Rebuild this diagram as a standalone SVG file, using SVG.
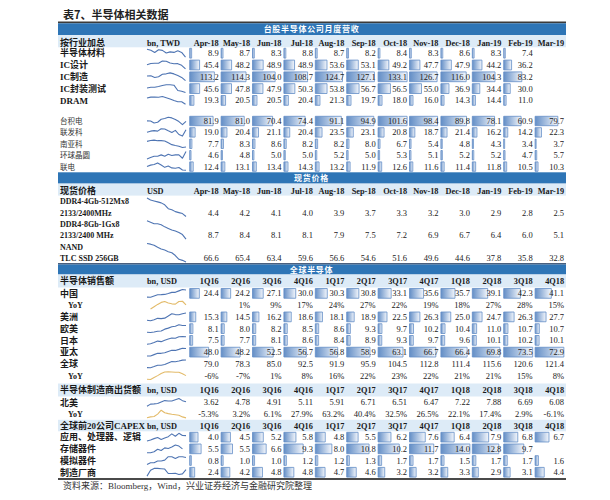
<svg xmlns="http://www.w3.org/2000/svg" width="610" height="500" viewBox="0 0 610 500">
<defs>
<linearGradient id="g" x1="0" y1="0" x2="1" y2="0"><stop offset="0" stop-color="#638ec6"/><stop offset="1" stop-color="#f4f7fc"/></linearGradient>
<style>
.lb{font-family:"Liberation Serif","Noto Sans CJK SC",serif;font-weight:bold;font-size:9px;fill:#1a1a1a}
.ls{font-family:"Liberation Serif","Noto Sans CJK SC",serif;font-size:7.5px;fill:#333}
.lt{font-family:"Liberation Serif",serif;font-weight:bold;font-size:8px;fill:#1a1a1a}
.u{font-family:"Liberation Serif",serif;font-weight:bold;font-size:8.3px;fill:#1a1a1a}
.h{font-family:"Liberation Serif",serif;font-weight:bold;font-size:8.3px;fill:#1a1a1a;text-anchor:end}
.n{font-family:"Liberation Serif",serif;font-size:8.5px;fill:#222;text-anchor:end}
.bt{font-family:"Noto Sans CJK SC",sans-serif;font-weight:bold;font-size:8px;letter-spacing:.7px;fill:#fff;text-anchor:middle}
.sp{fill:none;stroke:#4f75b3;stroke-width:1.1;vector-effect:non-scaling-stroke;stroke-linejoin:round}
.sy{fill:none;stroke:#e3bb6a;stroke-width:1.1;vector-effect:non-scaling-stroke;stroke-linejoin:round}
.b rect{fill:url(#g);stroke:#638ec6;stroke-width:.8;vector-effect:non-scaling-stroke}
.bg{fill:#ddebf7}
.bb{fill:#2e75b6}
</style>
</defs>
<rect width="610" height="500" fill="#fff"/>
<text x="63" y="19" style="font-family:'Noto Sans CJK SC',sans-serif;font-weight:bold;font-size:11px;fill:#222">表7、半导体相关数据</text>

<g id="backgrounds">
<rect x="58" y="21.5" width="508" height="1.8" fill="#3b3b3b"/>
<rect class="bb" x="58" y="23.3" width="508" height="11.7"/>
<rect class="bg" x="58" y="35" width="508" height="12.3"/>
<rect class="bb" x="58" y="172.3" width="508" height="11.3"/>
<rect class="bg" x="58" y="183.6" width="508" height="12"/>
<rect x="58" y="263.2" width="508" height="1.3" fill="#1e3a5f"/>
<rect class="bb" x="58" y="264.5" width="508" height="10"/>
<rect class="bg" x="58" y="274.5" width="508" height="13"/>
<rect class="bg" x="58" y="383.5" width="508" height="13"/>
<rect class="bg" x="58" y="419.8" width="508" height="11.5"/>
<rect x="58" y="478" width="508" height="2" fill="#4a4a4a"/>
</g>

<g id="section-titles">
<text class="bt" x="311.5" y="32.3">台股半导体公司月度营收</text>
<text class="bt" x="311.5" y="181">现货价格</text>
<text class="bt" x="311.5" y="272.6">全球半导体</text>
</g>

<g id="bars" class="b">
<g transform="translate(0,48.3)">
<rect transform="translate(189.7)scale(.21788,1)" width="8.9" height="9.8"/>
<rect transform="translate(221.1)scale(.21788,1)" width="8.7" height="9.8"/>
<rect transform="translate(252.5)scale(.21788,1)" width="8.3" height="9.8"/>
<rect transform="translate(283.9)scale(.21788,1)" width="8.8" height="9.8"/>
<rect transform="translate(315.3)scale(.21788,1)" width="8.7" height="9.8"/>
<rect transform="translate(346.7)scale(.21788,1)" width="8.2" height="9.8"/>
<rect transform="translate(378.1)scale(.21788,1)" width="8.4" height="9.8"/>
<rect transform="translate(409.5)scale(.21788,1)" width="8.3" height="9.8"/>
<rect transform="translate(440.9)scale(.21788,1)" width="8.6" height="9.8"/>
<rect transform="translate(472.3)scale(.21788,1)" width="8.3" height="9.8"/>
<rect transform="translate(503.7)scale(.21788,1)" width="7.4" height="9.8"/>
</g>
<g transform="translate(0,60.1)">
<rect transform="translate(189.7)scale(.21788,1)" width="45.4" height="9.8"/>
<rect transform="translate(221.1)scale(.21788,1)" width="48.2" height="9.8"/>
<rect transform="translate(252.5)scale(.21788,1)" width="48.9" height="9.8"/>
<rect transform="translate(283.9)scale(.21788,1)" width="48.9" height="9.8"/>
<rect transform="translate(315.3)scale(.21788,1)" width="53.6" height="9.8"/>
<rect transform="translate(346.7)scale(.21788,1)" width="53.1" height="9.8"/>
<rect transform="translate(378.1)scale(.21788,1)" width="49.2" height="9.8"/>
<rect transform="translate(409.5)scale(.21788,1)" width="47.7" height="9.8"/>
<rect transform="translate(440.9)scale(.21788,1)" width="47.9" height="9.8"/>
<rect transform="translate(472.3)scale(.21788,1)" width="44.2" height="9.8"/>
<rect transform="translate(503.7)scale(.21788,1)" width="36.2" height="9.8"/>
</g>
<g transform="translate(0,71.9)">
<rect transform="translate(189.7)scale(.21788,1)" width="113.2" height="9.8"/>
<rect transform="translate(221.1)scale(.21788,1)" width="114.3" height="9.8"/>
<rect transform="translate(252.5)scale(.21788,1)" width="104" height="9.8"/>
<rect transform="translate(283.9)scale(.21788,1)" width="108.7" height="9.8"/>
<rect transform="translate(315.3)scale(.21788,1)" width="124.7" height="9.8"/>
<rect transform="translate(346.7)scale(.21788,1)" width="127.1" height="9.8"/>
<rect transform="translate(378.1)scale(.21788,1)" width="133.1" height="9.8"/>
<rect transform="translate(409.5)scale(.21788,1)" width="126.7" height="9.8"/>
<rect transform="translate(440.9)scale(.21788,1)" width="116" height="9.8"/>
<rect transform="translate(472.3)scale(.21788,1)" width="104.3" height="9.8"/>
<rect transform="translate(503.7)scale(.21788,1)" width="83.2" height="9.8"/>
</g>
<g transform="translate(0,83.7)">
<rect transform="translate(189.7)scale(.21788,1)" width="45.6" height="9.8"/>
<rect transform="translate(221.1)scale(.21788,1)" width="47.8" height="9.8"/>
<rect transform="translate(252.5)scale(.21788,1)" width="47.9" height="9.8"/>
<rect transform="translate(283.9)scale(.21788,1)" width="50.3" height="9.8"/>
<rect transform="translate(315.3)scale(.21788,1)" width="53.8" height="9.8"/>
<rect transform="translate(346.7)scale(.21788,1)" width="56.7" height="9.8"/>
<rect transform="translate(378.1)scale(.21788,1)" width="56.5" height="9.8"/>
<rect transform="translate(409.5)scale(.21788,1)" width="55" height="9.8"/>
<rect transform="translate(440.9)scale(.21788,1)" width="36.9" height="9.8"/>
<rect transform="translate(472.3)scale(.21788,1)" width="34.4" height="9.8"/>
<rect transform="translate(503.7)scale(.21788,1)" width="30" height="9.8"/>
</g>
<g transform="translate(0,95.5)">
<rect transform="translate(189.7)scale(.21788,1)" width="19.3" height="9.8"/>
<rect transform="translate(221.1)scale(.21788,1)" width="20.5" height="9.8"/>
<rect transform="translate(252.5)scale(.21788,1)" width="20.5" height="9.8"/>
<rect transform="translate(283.9)scale(.21788,1)" width="20.4" height="9.8"/>
<rect transform="translate(315.3)scale(.21788,1)" width="21.3" height="9.8"/>
<rect transform="translate(346.7)scale(.21788,1)" width="19.7" height="9.8"/>
<rect transform="translate(378.1)scale(.21788,1)" width="18" height="9.8"/>
<rect transform="translate(409.5)scale(.21788,1)" width="16" height="9.8"/>
<rect transform="translate(440.9)scale(.21788,1)" width="14.3" height="9.8"/>
<rect transform="translate(472.3)scale(.21788,1)" width="14.4" height="9.8"/>
<rect transform="translate(503.7)scale(.21788,1)" width="11" height="9.8"/>
</g>

<g transform="translate(0,116.3)">
<rect transform="translate(189.7)scale(.28543,1)" width="81.9" height="9.4"/>
<rect transform="translate(221.1)scale(.28543,1)" width="81" height="9.4"/>
<rect transform="translate(252.5)scale(.28543,1)" width="70.4" height="9.4"/>
<rect transform="translate(283.9)scale(.28543,1)" width="74.4" height="9.4"/>
<rect transform="translate(315.3)scale(.28543,1)" width="91.1" height="9.4"/>
<rect transform="translate(346.7)scale(.28543,1)" width="94.9" height="9.4"/>
<rect transform="translate(378.1)scale(.28543,1)" width="101.6" height="9.4"/>
<rect transform="translate(409.5)scale(.28543,1)" width="98.4" height="9.4"/>
<rect transform="translate(440.9)scale(.28543,1)" width="89.8" height="9.4"/>
<rect transform="translate(472.3)scale(.28543,1)" width="78.1" height="9.4"/>
<rect transform="translate(503.7)scale(.28543,1)" width="60.9" height="9.4"/>
<rect transform="translate(535.1)scale(.28543,1)" width="79.7" height="9.4"/>
</g>
<g transform="translate(0,127.7)">
<rect transform="translate(189.7)scale(.28543,1)" width="19" height="9.4"/>
<rect transform="translate(221.1)scale(.28543,1)" width="20.4" height="9.4"/>
<rect transform="translate(252.5)scale(.28543,1)" width="21.1" height="9.4"/>
<rect transform="translate(283.9)scale(.28543,1)" width="20.4" height="9.4"/>
<rect transform="translate(315.3)scale(.28543,1)" width="23.5" height="9.4"/>
<rect transform="translate(346.7)scale(.28543,1)" width="23.1" height="9.4"/>
<rect transform="translate(378.1)scale(.28543,1)" width="20.8" height="9.4"/>
<rect transform="translate(409.5)scale(.28543,1)" width="18.7" height="9.4"/>
<rect transform="translate(440.9)scale(.28543,1)" width="21.4" height="9.4"/>
<rect transform="translate(472.3)scale(.28543,1)" width="16.2" height="9.4"/>
<rect transform="translate(503.7)scale(.28543,1)" width="14.2" height="9.4"/>
<rect transform="translate(535.1)scale(.28543,1)" width="22.3" height="9.4"/>
</g>
<g transform="translate(0,139.1)">
<rect transform="translate(189.7)scale(.28543,1)" width="7.7" height="9.4"/>
<rect transform="translate(221.1)scale(.28543,1)" width="8.3" height="9.4"/>
<rect transform="translate(252.5)scale(.28543,1)" width="8.6" height="9.4"/>
<rect transform="translate(283.9)scale(.28543,1)" width="8.2" height="9.4"/>
<rect transform="translate(315.3)scale(.28543,1)" width="8.2" height="9.4"/>
<rect transform="translate(346.7)scale(.28543,1)" width="8" height="9.4"/>
<rect transform="translate(378.1)scale(.28543,1)" width="6.7" height="9.4"/>
<rect transform="translate(409.5)scale(.28543,1)" width="5.4" height="9.4"/>
<rect transform="translate(440.9)scale(.28543,1)" width="4.8" height="9.4"/>
<rect transform="translate(472.3)scale(.28543,1)" width="4.3" height="9.4"/>
<rect transform="translate(503.7)scale(.28543,1)" width="3.4" height="9.4"/>
<rect transform="translate(535.1)scale(.28543,1)" width="3.7" height="9.4"/>
</g>
<g transform="translate(0,150.5)">
<rect transform="translate(189.7)scale(.28543,1)" width="4.6" height="9.4"/>
<rect transform="translate(221.1)scale(.28543,1)" width="4.8" height="9.4"/>
<rect transform="translate(252.5)scale(.28543,1)" width="5" height="9.4"/>
<rect transform="translate(283.9)scale(.28543,1)" width="5" height="9.4"/>
<rect transform="translate(315.3)scale(.28543,1)" width="5.2" height="9.4"/>
<rect transform="translate(346.7)scale(.28543,1)" width="5" height="9.4"/>
<rect transform="translate(378.1)scale(.28543,1)" width="5.3" height="9.4"/>
<rect transform="translate(409.5)scale(.28543,1)" width="5.1" height="9.4"/>
<rect transform="translate(440.9)scale(.28543,1)" width="5.2" height="9.4"/>
<rect transform="translate(472.3)scale(.28543,1)" width="5.2" height="9.4"/>
<rect transform="translate(503.7)scale(.28543,1)" width="4.7" height="9.4"/>
<rect transform="translate(535.1)scale(.28543,1)" width="5.7" height="9.4"/>
</g>
<g transform="translate(0,161.9)">
<rect transform="translate(189.7)scale(.28543,1)" width="12.4" height="9.4"/>
<rect transform="translate(221.1)scale(.28543,1)" width="13.1" height="9.4"/>
<rect transform="translate(252.5)scale(.28543,1)" width="13.4" height="9.4"/>
<rect transform="translate(283.9)scale(.28543,1)" width="14.3" height="9.4"/>
<rect transform="translate(315.3)scale(.28543,1)" width="13.2" height="9.4"/>
<rect transform="translate(346.7)scale(.28543,1)" width="11.9" height="9.4"/>
<rect transform="translate(378.1)scale(.28543,1)" width="12.6" height="9.4"/>
<rect transform="translate(409.5)scale(.28543,1)" width="11.6" height="9.4"/>
<rect transform="translate(440.9)scale(.28543,1)" width="11.4" height="9.4"/>
<rect transform="translate(472.3)scale(.28543,1)" width="11.8" height="9.4"/>
<rect transform="translate(503.7)scale(.28543,1)" width="10.5" height="9.4"/>
<rect transform="translate(535.1)scale(.28543,1)" width="10.3" height="9.4"/>
</g>

<g transform="translate(0,288.5)">
<rect transform="translate(189.7)scale(.39456,1)" width="24.4" height="9.75"/>
<rect transform="translate(221.1)scale(.39456,1)" width="24.2" height="9.75"/>
<rect transform="translate(252.5)scale(.39456,1)" width="27.1" height="9.75"/>
<rect transform="translate(283.9)scale(.39456,1)" width="30" height="9.75"/>
<rect transform="translate(315.3)scale(.39456,1)" width="30.3" height="9.75"/>
<rect transform="translate(346.7)scale(.39456,1)" width="30.8" height="9.75"/>
<rect transform="translate(378.1)scale(.39456,1)" width="33.1" height="9.75"/>
<rect transform="translate(409.5)scale(.39456,1)" width="35.6" height="9.75"/>
<rect transform="translate(440.9)scale(.39456,1)" width="35.7" height="9.75"/>
<rect transform="translate(472.3)scale(.39456,1)" width="39.1" height="9.75"/>
<rect transform="translate(503.7)scale(.39456,1)" width="42.3" height="9.75"/>
<rect transform="translate(535.1)scale(.39456,1)" width="41.1" height="9.75"/>
</g>
<g transform="translate(0,312)">
<rect transform="translate(189.7)scale(.39456,1)" width="15.3" height="9.75"/>
<rect transform="translate(221.1)scale(.39456,1)" width="14.5" height="9.75"/>
<rect transform="translate(252.5)scale(.39456,1)" width="16.2" height="9.75"/>
<rect transform="translate(283.9)scale(.39456,1)" width="18.6" height="9.75"/>
<rect transform="translate(315.3)scale(.39456,1)" width="18.1" height="9.75"/>
<rect transform="translate(346.7)scale(.39456,1)" width="18.9" height="9.75"/>
<rect transform="translate(378.1)scale(.39456,1)" width="22.5" height="9.75"/>
<rect transform="translate(409.5)scale(.39456,1)" width="26.3" height="9.75"/>
<rect transform="translate(440.9)scale(.39456,1)" width="25" height="9.75"/>
<rect transform="translate(472.3)scale(.39456,1)" width="24.7" height="9.75"/>
<rect transform="translate(503.7)scale(.39456,1)" width="26.3" height="9.75"/>
<rect transform="translate(535.1)scale(.39456,1)" width="27.7" height="9.75"/>
</g>
<g transform="translate(0,323.75)">
<rect transform="translate(189.7)scale(.39456,1)" width="8.1" height="9.75"/>
<rect transform="translate(221.1)scale(.39456,1)" width="8" height="9.75"/>
<rect transform="translate(252.5)scale(.39456,1)" width="8.2" height="9.75"/>
<rect transform="translate(283.9)scale(.39456,1)" width="8.5" height="9.75"/>
<rect transform="translate(315.3)scale(.39456,1)" width="8.6" height="9.75"/>
<rect transform="translate(346.7)scale(.39456,1)" width="9.3" height="9.75"/>
<rect transform="translate(378.1)scale(.39456,1)" width="9.7" height="9.75"/>
<rect transform="translate(409.5)scale(.39456,1)" width="10.2" height="9.75"/>
<rect transform="translate(440.9)scale(.39456,1)" width="10.4" height="9.75"/>
<rect transform="translate(472.3)scale(.39456,1)" width="11" height="9.75"/>
<rect transform="translate(503.7)scale(.39456,1)" width="10.7" height="9.75"/>
<rect transform="translate(535.1)scale(.39456,1)" width="10.7" height="9.75"/>
</g>
<g transform="translate(0,335.5)">
<rect transform="translate(189.7)scale(.39456,1)" width="7.5" height="9.75"/>
<rect transform="translate(221.1)scale(.39456,1)" width="7.7" height="9.75"/>
<rect transform="translate(252.5)scale(.39456,1)" width="8.1" height="9.75"/>
<rect transform="translate(283.9)scale(.39456,1)" width="8.6" height="9.75"/>
<rect transform="translate(315.3)scale(.39456,1)" width="8.4" height="9.75"/>
<rect transform="translate(346.7)scale(.39456,1)" width="8.9" height="9.75"/>
<rect transform="translate(378.1)scale(.39456,1)" width="9.3" height="9.75"/>
<rect transform="translate(409.5)scale(.39456,1)" width="9.7" height="9.75"/>
<rect transform="translate(440.9)scale(.39456,1)" width="9.6" height="9.75"/>
<rect transform="translate(472.3)scale(.39456,1)" width="10.1" height="9.75"/>
<rect transform="translate(503.7)scale(.39456,1)" width="10.2" height="9.75"/>
<rect transform="translate(535.1)scale(.39456,1)" width="10.1" height="9.75"/>
</g>
<g transform="translate(0,347.25)">
<rect transform="translate(189.7)scale(.39456,1)" width="48" height="9.75"/>
<rect transform="translate(221.1)scale(.39456,1)" width="48.2" height="9.75"/>
<rect transform="translate(252.5)scale(.39456,1)" width="52.5" height="9.75"/>
<rect transform="translate(283.9)scale(.39456,1)" width="56.7" height="9.75"/>
<rect transform="translate(315.3)scale(.39456,1)" width="56.8" height="9.75"/>
<rect transform="translate(346.7)scale(.39456,1)" width="58.9" height="9.75"/>
<rect transform="translate(378.1)scale(.39456,1)" width="63.1" height="9.75"/>
<rect transform="translate(409.5)scale(.39456,1)" width="66.7" height="9.75"/>
<rect transform="translate(440.9)scale(.39456,1)" width="66.4" height="9.75"/>
<rect transform="translate(472.3)scale(.39456,1)" width="69.8" height="9.75"/>
<rect transform="translate(503.7)scale(.39456,1)" width="73.5" height="9.75"/>
<rect transform="translate(535.1)scale(.39456,1)" width="72.9" height="9.75"/>
</g>

<g transform="translate(0,432.3)">
<rect transform="translate(189.7)scale(2.07143,1)" width="4" height="9.7"/>
<rect transform="translate(221.1)scale(2.07143,1)" width="4.5" height="9.7"/>
<rect transform="translate(252.5)scale(2.07143,1)" width="5.2" height="9.7"/>
<rect transform="translate(283.9)scale(2.07143,1)" width="5.8" height="9.7"/>
<rect transform="translate(315.3)scale(2.07143,1)" width="4.8" height="9.7"/>
<rect transform="translate(346.7)scale(2.07143,1)" width="5.5" height="9.7"/>
<rect transform="translate(378.1)scale(2.07143,1)" width="6.2" height="9.7"/>
<rect transform="translate(409.5)scale(2.07143,1)" width="7.6" height="9.7"/>
<rect transform="translate(440.9)scale(2.07143,1)" width="6.4" height="9.7"/>
<rect transform="translate(472.3)scale(2.07143,1)" width="7.9" height="9.7"/>
<rect transform="translate(503.7)scale(2.07143,1)" width="6.8" height="9.7"/>
<rect transform="translate(535.1)scale(2.07143,1)" width="6.7" height="9.7"/>
</g>
<g transform="translate(0,444)">
<rect transform="translate(189.7)scale(2.07143,1)" width="5.5" height="9.7"/>
<rect transform="translate(221.1)scale(2.07143,1)" width="5.5" height="9.7"/>
<rect transform="translate(252.5)scale(2.07143,1)" width="6.6" height="9.7"/>
<rect transform="translate(283.9)scale(2.07143,1)" width="9.3" height="9.7"/>
<rect transform="translate(315.3)scale(2.07143,1)" width="8" height="9.7"/>
<rect transform="translate(346.7)scale(2.07143,1)" width="10.8" height="9.7"/>
<rect transform="translate(378.1)scale(2.07143,1)" width="10.2" height="9.7"/>
<rect transform="translate(409.5)scale(2.07143,1)" width="11.7" height="9.7"/>
<rect transform="translate(440.9)scale(2.07143,1)" width="14" height="9.7"/>
<rect transform="translate(472.3)scale(2.07143,1)" width="12.8" height="9.7"/>
<rect transform="translate(503.7)scale(2.07143,1)" width="9.7" height="9.7"/>
</g>
<g transform="translate(0,455.7)">
<rect transform="translate(189.7)scale(2.07143,1)" width="0.8" height="9.7"/>
<rect transform="translate(221.1)scale(2.07143,1)" width="1" height="9.7"/>
<rect transform="translate(252.5)scale(2.07143,1)" width="1" height="9.7"/>
<rect transform="translate(283.9)scale(2.07143,1)" width="1.2" height="9.7"/>
<rect transform="translate(315.3)scale(2.07143,1)" width="1.2" height="9.7"/>
<rect transform="translate(346.7)scale(2.07143,1)" width="1.3" height="9.7"/>
<rect transform="translate(378.1)scale(2.07143,1)" width="1.7" height="9.7"/>
<rect transform="translate(409.5)scale(2.07143,1)" width="1.7" height="9.7"/>
<rect transform="translate(440.9)scale(2.07143,1)" width="1.5" height="9.7"/>
<rect transform="translate(472.3)scale(2.07143,1)" width="1.7" height="9.7"/>
<rect transform="translate(503.7)scale(2.07143,1)" width="1.7" height="9.7"/>
<rect transform="translate(535.1)scale(2.07143,1)" width="1.6" height="9.7"/>
</g>
<g transform="translate(0,467.4)">
<rect transform="translate(189.7)scale(2.07143,1)" width="2.4" height="9.7"/>
<rect transform="translate(221.1)scale(2.07143,1)" width="4.2" height="9.7"/>
<rect transform="translate(252.5)scale(2.07143,1)" width="4.8" height="9.7"/>
<rect transform="translate(283.9)scale(2.07143,1)" width="4.8" height="9.7"/>
<rect transform="translate(315.3)scale(2.07143,1)" width="4.7" height="9.7"/>
<rect transform="translate(346.7)scale(2.07143,1)" width="4.6" height="9.7"/>
<rect transform="translate(378.1)scale(2.07143,1)" width="3.2" height="9.7"/>
<rect transform="translate(409.5)scale(2.07143,1)" width="3.2" height="9.7"/>
<rect transform="translate(440.9)scale(2.07143,1)" width="3.3" height="9.7"/>
<rect transform="translate(472.3)scale(2.07143,1)" width="2.9" height="9.7"/>
<rect transform="translate(503.7)scale(2.07143,1)" width="3.1" height="9.7"/>
<rect transform="translate(535.1)scale(2.07143,1)" width="4.4" height="9.7"/>
</g>
</g>

<g id="sparklines">
<polyline class="sp" transform="translate(147,57.1) scale(3.85,-5.2) translate(0,-7.4)" points="0,8.9 1,8.7 2,8.3 3,8.8 4,8.7 5,8.2 6,8.4 7,8.3 8,8.6 9,8.3 10,7.4"/>
<polyline class="sp" transform="translate(147,68.9) scale(3.85,-0.4483) translate(0,-36.2)" points="0,45.4 1,48.2 2,48.9 3,48.9 4,53.6 5,53.1 6,49.2 7,47.7 8,47.9 9,44.2 10,36.2"/>
<polyline class="sp" transform="translate(147,80.7) scale(3.85,-0.1563) translate(0,-83.2)" points="0,113.2 1,114.3 2,104 3,108.7 4,124.7 5,127.1 6,133.1 7,126.7 8,116 9,104.3 10,83.2"/>
<polyline class="sp" transform="translate(147,92.5) scale(3.85,-0.2921) translate(0,-30)" points="0,45.6 1,47.8 2,47.9 3,50.3 4,53.8 5,56.7 6,56.5 7,55 8,36.9 9,34.4 10,30"/>
<polyline class="sp" transform="translate(147,104.3) scale(3.85,-0.7573) translate(0,-11)" points="0,19.3 1,20.5 2,20.5 3,20.4 4,21.3 5,19.7 6,18 7,16 8,14.3 9,14.4 10,11"/>

<polyline class="sp" transform="translate(147,124.7) scale(3.545,-0.1818) translate(0,-60.9)" points="0,81.9 1,81 2,70.4 3,74.4 4,91.1 5,94.9 6,101.6 7,98.4 8,89.8 9,78.1 10,60.9 11,79.7"/>
<polyline class="sp" transform="translate(147,136.1) scale(3.545,-0.7957) translate(0,-14.2)" points="0,19 1,20.4 2,21.1 3,20.4 4,23.5 5,23.1 6,20.8 7,18.7 8,21.4 9,16.2 10,14.2 11,22.3"/>
<polyline class="sp" transform="translate(147,147.5) scale(3.545,-1.4231) translate(0,-3.4)" points="0,7.7 1,8.3 2,8.6 3,8.2 4,8.2 5,8 6,6.7 7,5.4 8,4.8 9,4.3 10,3.4 11,3.7"/>
<polyline class="sp" transform="translate(147,158.9) scale(3.545,-6.727) translate(0,-4.6)" points="0,4.6 1,4.8 2,5 3,5 4,5.2 5,5 6,5.3 7,5.1 8,5.2 9,5.2 10,4.7 11,5.7"/>
<polyline class="sp" transform="translate(147,170.3) scale(3.545,-1.85) translate(0,-10.3)" points="0,12.4 1,13.1 2,13.4 3,14.3 4,13.2 5,11.9 6,12.6 7,11.6 8,11.4 9,11.8 10,10.5 11,10.3"/>

<polyline class="sp" transform="translate(147,216.5) scale(3.545,-9.737) translate(0,-2.5)" points="0,4.4 1,4.2 2,4.1 3,4 4,3.9 5,3.7 6,3.3 7,3.2 8,3 9,2.9 10,2.8 11,2.5"/>
<polyline class="sp" transform="translate(147,239.2) scale(3.545,-5.139) translate(0,-5.1)" points="0,8.7 1,8.4 2,8.1 3,8.1 4,7.9 5,7.5 6,7.2 7,6.9 8,6.7 9,6.4 10,6 11,5.1"/>
<polyline class="sp" transform="translate(147,262) scale(3.545,-0.5473) translate(0,-32.8)" points="0,66.6 1,65.4 2,63.4 3,59.6 4,56.6 5,54.6 6,51.6 7,49.6 8,44.6 9,37.8 10,35.8 11,32.8"/>

<polyline class="sp" transform="translate(147,297.25) scale(3.545,-0.4282) translate(0,-24.2)" points="0,24.4 1,24.2 2,27.1 3,30 4,30.3 5,30.8 6,33.1 7,35.6 8,35.7 9,39.1 10,42.3 11,41.1"/>
<polyline class="sy" transform="translate(147,309) scale(3.545,-0.287) translate(0,-1)" points="1,1 2,9 3,17 4,24 5,27 6,22 7,19 8,18 9,27 10,28 11,15"/>
<polyline class="sp" transform="translate(147,320.75) scale(3.545,-0.5871) translate(0,-14.5)" points="0,15.3 1,14.5 2,16.2 3,18.6 4,18.1 5,18.9 6,22.5 7,26.3 8,25 9,24.7 10,26.3 11,27.7"/>
<polyline class="sp" transform="translate(147,332.5) scale(3.545,-2.5833) translate(0,-8)" points="0,8.1 1,8 2,8.2 3,8.5 4,8.6 5,9.3 6,9.7 7,10.2 8,10.4 9,11 10,10.7 11,10.7"/>
<polyline class="sp" transform="translate(147,344.25) scale(3.545,-2.8704) translate(0,-7.5)" points="0,7.5 1,7.7 2,8.1 3,8.6 4,8.4 5,8.9 6,9.3 7,9.7 8,9.6 9,10.1 10,10.2 11,10.1"/>
<polyline class="sp" transform="translate(147,356) scale(3.545,-0.3039) translate(0,-48)" points="0,48 1,48.2 2,52.5 3,56.7 4,56.8 5,58.9 6,63.1 7,66.7 8,66.4 9,69.8 10,73.5 11,72.9"/>
<polyline class="sp" transform="translate(147,367.75) scale(3.545,-0.1798) translate(0,-78.3)" points="0,79 1,78.3 2,85 3,92.5 4,91.9 5,95.9 6,104.5 7,112.8 8,111.4 9,115.6 10,120.6 11,121.4"/>
<polyline class="sy" transform="translate(147,379.5) scale(3.545,-0.2583) translate(0,7)" points="0,-6 1,-7 2,1 3,8 4,16 5,22 6,23 7,22 8,21 9,21 10,15 11,8"/>

<polyline class="sp" transform="translate(147,406.2) scale(3.545,-1.8075) translate(0,-3.62)" points="0,3.62 1,4.78 2,4.91 3,5.11 4,5.91 5,6.71 6,6.51 7,6.47 8,7.22 9,7.88 10,6.69 11,6.08"/>
<polyline class="sy" transform="translate(147,417.9) scale(3.545,-0.1111) translate(0,6.1)" points="0,-5.3 1,3.2 2,6.1 3,27.9 4,63.2 5,40.4 6,32.5 7,26.5 8,22.1 9,17.4 10,2.9 11,-6.1"/>

<polyline class="sp" transform="translate(147,441) scale(3.545,-1.9744) translate(0,-4)" points="0,4 1,4.5 2,5.2 3,5.8 4,4.8 5,5.5 6,6.2 7,7.6 8,6.4 9,7.9 10,6.8 11,6.7"/>
<polyline class="sp" transform="translate(147,452.7) scale(3.545,-0.9059) translate(0,-5.5)" points="0,5.5 1,5.5 2,6.6 3,9.3 4,8 5,10.8 6,10.2 7,11.7 8,14 9,12.8 10,9.7"/>
<polyline class="sp" transform="translate(147,464.4) scale(3.545,-8.556) translate(0,-0.8)" points="0,0.8 1,1 2,1 3,1.2 4,1.2 5,1.3 6,1.7 7,1.7 8,1.5 9,1.7 10,1.7 11,1.6"/>
<polyline class="sp" transform="translate(147,476.1) scale(3.545,-3.2083) translate(0,-2.4)" points="0,2.4 1,4.2 2,4.8 3,4.8 4,4.7 5,4.6 6,3.2 7,3.2 8,3.3 9,2.9 10,3.1 11,4.4"/>
</g>

<g id="labels">
<text class="lb" x="60" y="45.8">按行业加总</text>
<text class="lb" x="60" y="56.4">半导体材料</text>
<text class="lb" x="60" y="68.2">IC设计</text>
<text class="lb" x="60" y="80">IC制造</text>
<text class="lb" x="60" y="91.8">IC封装测试</text>
<text class="lb" x="60" y="103.6">DRAM</text>
<text class="ls" x="60" y="123.9">台积电</text>
<text class="ls" x="60" y="135.3">联发科</text>
<text class="ls" x="60" y="146.7">南亚科</text>
<text class="ls" x="60" y="158.1">环球晶圆</text>
<text class="ls" x="60" y="169.5">联电</text>
<text class="lb" x="60" y="193.7">现货价格</text>
<text class="lt" x="60" y="204.3">DDR4-4Gb-512Mx8</text>
<text class="lt" x="60" y="215.6">2133/2400MHz</text>
<text class="lt" x="60" y="227">DDR4-8Gb-1Gx8</text>
<text class="lt" x="60" y="238.3">2133/2400 MHz</text>
<text class="lt" x="60" y="249.7">NAND</text>
<text class="lt" x="60" y="261">TLC SSD 256GB</text>
<text class="lb" x="60" y="284.3">半导体销售额</text>
<text class="lb" x="60" y="296.6">中国</text>
<text class="lt" x="68" y="308.2">YoY</text>
<text class="lb" x="60" y="320.1">美洲</text>
<text class="lb" x="60" y="331.8">欧美</text>
<text class="lb" x="60" y="343.6">日本</text>
<text class="lb" x="60" y="355.3">亚太</text>
<text class="lb" x="60" y="367.1">全球</text>
<text class="lt" x="68" y="378.7">YoY</text>
<text class="lb" x="60" y="393.2">半导体制造商出货额</text>
<text class="lb" x="60" y="405.5">北美</text>
<text class="lt" x="68" y="417.1">YoY</text>
<text class="lb" x="60" y="428.8">全球前20公司CAPEX</text>
<text class="lb" x="60" y="440.4">应用、处理器、逻辑</text>
<text class="lb" x="60" y="452.1">存储器件</text>
<text class="lb" x="60" y="463.8">模拟器件</text>
<text class="lb" x="60" y="475.5">制造厂商</text>
<text class="u" x="147" y="45.6">bn, TWD</text>
<text class="u" x="147" y="193.5">USD</text>
<text class="u" x="147" y="284">bn, USD</text>
<text class="u" x="147" y="393">bn, USD</text>
<text class="u" x="147" y="428.6">bn, USD</text>
</g>

<g id="headers">
<text class="h" y="45.6"><tspan x="218.7">Apr-18</tspan><tspan x="250.1">May-18</tspan><tspan x="281.5">Jun-18</tspan><tspan x="312.9">Jul-18</tspan><tspan x="344.3">Aug-18</tspan><tspan x="375.7">Sep-18</tspan><tspan x="407.1">Oct-18</tspan><tspan x="438.5">Nov-18</tspan><tspan x="469.9">Dec-18</tspan><tspan x="501.3">Jan-19</tspan><tspan x="532.7">Feb-19</tspan><tspan x="564.1">Mar-19</tspan></text>
<text class="h" y="193.5"><tspan x="218.7">Apr-18</tspan><tspan x="250.1">May-18</tspan><tspan x="281.5">Jun-18</tspan><tspan x="312.9">Jul-18</tspan><tspan x="344.3">Aug-18</tspan><tspan x="375.7">Sep-18</tspan><tspan x="407.1">Oct-18</tspan><tspan x="438.5">Nov-18</tspan><tspan x="469.9">Dec-18</tspan><tspan x="501.3">Jan-19</tspan><tspan x="532.7">Feb-19</tspan><tspan x="564.1">Mar-19</tspan></text>
<text class="h" y="284"><tspan x="218.7">1Q16</tspan><tspan x="250.1">2Q16</tspan><tspan x="281.5">3Q16</tspan><tspan x="312.9">4Q16</tspan><tspan x="344.3">1Q17</tspan><tspan x="375.7">2Q17</tspan><tspan x="407.1">3Q17</tspan><tspan x="438.5">4Q17</tspan><tspan x="469.9">1Q18</tspan><tspan x="501.3">2Q18</tspan><tspan x="532.7">3Q18</tspan><tspan x="564.1">4Q18</tspan></text>
<text class="h" y="393"><tspan x="218.7">1Q16</tspan><tspan x="250.1">2Q16</tspan><tspan x="281.5">3Q16</tspan><tspan x="312.9">4Q16</tspan><tspan x="344.3">1Q17</tspan><tspan x="375.7">2Q17</tspan><tspan x="407.1">3Q17</tspan><tspan x="438.5">4Q17</tspan><tspan x="469.9">1Q18</tspan><tspan x="501.3">2Q18</tspan><tspan x="532.7">3Q18</tspan><tspan x="564.1">4Q18</tspan></text>
<text class="h" y="428.6"><tspan x="218.7">1Q16</tspan><tspan x="250.1">2Q16</tspan><tspan x="281.5">3Q16</tspan><tspan x="312.9">4Q16</tspan><tspan x="344.3">1Q17</tspan><tspan x="375.7">2Q17</tspan><tspan x="407.1">3Q17</tspan><tspan x="438.5">4Q17</tspan><tspan x="469.9">1Q18</tspan><tspan x="501.3">2Q18</tspan><tspan x="532.7">3Q18</tspan><tspan x="564.1">4Q18</tspan></text>
</g>

<g id="values">
<text class="n" y="56.1"><tspan x="218.7">8.9</tspan><tspan x="250.1">8.7</tspan><tspan x="281.5">8.3</tspan><tspan x="312.9">8.8</tspan><tspan x="344.3">8.7</tspan><tspan x="375.7">8.2</tspan><tspan x="407.1">8.4</tspan><tspan x="438.5">8.3</tspan><tspan x="469.9">8.6</tspan><tspan x="501.3">8.3</tspan><tspan x="532.7">7.4</tspan></text>
<text class="n" y="67.9"><tspan x="218.7">45.4</tspan><tspan x="250.1">48.2</tspan><tspan x="281.5">48.9</tspan><tspan x="312.9">48.9</tspan><tspan x="344.3">53.6</tspan><tspan x="375.7">53.1</tspan><tspan x="407.1">49.2</tspan><tspan x="438.5">47.7</tspan><tspan x="469.9">47.9</tspan><tspan x="501.3">44.2</tspan><tspan x="532.7">36.2</tspan></text>
<text class="n" y="79.7"><tspan x="218.7">113.2</tspan><tspan x="250.1">114.3</tspan><tspan x="281.5">104.0</tspan><tspan x="312.9">108.7</tspan><tspan x="344.3">124.7</tspan><tspan x="375.7">127.1</tspan><tspan x="407.1">133.1</tspan><tspan x="438.5">126.7</tspan><tspan x="469.9">116.0</tspan><tspan x="501.3">104.3</tspan><tspan x="532.7">83.2</tspan></text>
<text class="n" y="91.5"><tspan x="218.7">45.6</tspan><tspan x="250.1">47.8</tspan><tspan x="281.5">47.9</tspan><tspan x="312.9">50.3</tspan><tspan x="344.3">53.8</tspan><tspan x="375.7">56.7</tspan><tspan x="407.1">56.5</tspan><tspan x="438.5">55.0</tspan><tspan x="469.9">36.9</tspan><tspan x="501.3">34.4</tspan><tspan x="532.7">30.0</tspan></text>
<text class="n" y="103.3"><tspan x="218.7">19.3</tspan><tspan x="250.1">20.5</tspan><tspan x="281.5">20.5</tspan><tspan x="312.9">20.4</tspan><tspan x="344.3">21.3</tspan><tspan x="375.7">19.7</tspan><tspan x="407.1">18.0</tspan><tspan x="438.5">16.0</tspan><tspan x="469.9">14.3</tspan><tspan x="501.3">14.4</tspan><tspan x="532.7">11.0</tspan></text>

<text class="n" y="123.9"><tspan x="218.7">81.9</tspan><tspan x="250.1">81.0</tspan><tspan x="281.5">70.4</tspan><tspan x="312.9">74.4</tspan><tspan x="344.3">91.1</tspan><tspan x="375.7">94.9</tspan><tspan x="407.1">101.6</tspan><tspan x="438.5">98.4</tspan><tspan x="469.9">89.8</tspan><tspan x="501.3">78.1</tspan><tspan x="532.7">60.9</tspan><tspan x="564.1">79.7</tspan></text>
<text class="n" y="135.3"><tspan x="218.7">19.0</tspan><tspan x="250.1">20.4</tspan><tspan x="281.5">21.1</tspan><tspan x="312.9">20.4</tspan><tspan x="344.3">23.5</tspan><tspan x="375.7">23.1</tspan><tspan x="407.1">20.8</tspan><tspan x="438.5">18.7</tspan><tspan x="469.9">21.4</tspan><tspan x="501.3">16.2</tspan><tspan x="532.7">14.2</tspan><tspan x="564.1">22.3</tspan></text>
<text class="n" y="146.7"><tspan x="218.7">7.7</tspan><tspan x="250.1">8.3</tspan><tspan x="281.5">8.6</tspan><tspan x="312.9">8.2</tspan><tspan x="344.3">8.2</tspan><tspan x="375.7">8.0</tspan><tspan x="407.1">6.7</tspan><tspan x="438.5">5.4</tspan><tspan x="469.9">4.8</tspan><tspan x="501.3">4.3</tspan><tspan x="532.7">3.4</tspan><tspan x="564.1">3.7</tspan></text>
<text class="n" y="158.1"><tspan x="218.7">4.6</tspan><tspan x="250.1">4.8</tspan><tspan x="281.5">5.0</tspan><tspan x="312.9">5.0</tspan><tspan x="344.3">5.2</tspan><tspan x="375.7">5.0</tspan><tspan x="407.1">5.3</tspan><tspan x="438.5">5.1</tspan><tspan x="469.9">5.2</tspan><tspan x="501.3">5.2</tspan><tspan x="532.7">4.7</tspan><tspan x="564.1">5.7</tspan></text>
<text class="n" y="169.5"><tspan x="218.7">12.4</tspan><tspan x="250.1">13.1</tspan><tspan x="281.5">13.4</tspan><tspan x="312.9">14.3</tspan><tspan x="344.3">13.2</tspan><tspan x="375.7">11.9</tspan><tspan x="407.1">12.6</tspan><tspan x="438.5">11.6</tspan><tspan x="469.9">11.4</tspan><tspan x="501.3">11.8</tspan><tspan x="532.7">10.5</tspan><tspan x="564.1">10.3</tspan></text>

<text class="n" y="215.6"><tspan x="218.7">4.4</tspan><tspan x="250.1">4.2</tspan><tspan x="281.5">4.1</tspan><tspan x="312.9">4.0</tspan><tspan x="344.3">3.9</tspan><tspan x="375.7">3.7</tspan><tspan x="407.1">3.3</tspan><tspan x="438.5">3.2</tspan><tspan x="469.9">3.0</tspan><tspan x="501.3">2.9</tspan><tspan x="532.7">2.8</tspan><tspan x="564.1">2.5</tspan></text>
<text class="n" y="238.3"><tspan x="218.7">8.7</tspan><tspan x="250.1">8.4</tspan><tspan x="281.5">8.1</tspan><tspan x="312.9">8.1</tspan><tspan x="344.3">7.9</tspan><tspan x="375.7">7.5</tspan><tspan x="407.1">7.2</tspan><tspan x="438.5">6.9</tspan><tspan x="469.9">6.7</tspan><tspan x="501.3">6.4</tspan><tspan x="532.7">6.0</tspan><tspan x="564.1">5.1</tspan></text>
<text class="n" y="261"><tspan x="218.7">66.6</tspan><tspan x="250.1">65.4</tspan><tspan x="281.5">63.4</tspan><tspan x="312.9">59.6</tspan><tspan x="344.3">56.6</tspan><tspan x="375.7">54.6</tspan><tspan x="407.1">51.6</tspan><tspan x="438.5">49.6</tspan><tspan x="469.9">44.6</tspan><tspan x="501.3">37.8</tspan><tspan x="532.7">35.8</tspan><tspan x="564.1">32.8</tspan></text>

<text class="n" y="296.4"><tspan x="218.7">24.4</tspan><tspan x="250.1">24.2</tspan><tspan x="281.5">27.1</tspan><tspan x="312.9">30.0</tspan><tspan x="344.3">30.3</tspan><tspan x="375.7">30.8</tspan><tspan x="407.1">33.1</tspan><tspan x="438.5">35.6</tspan><tspan x="469.9">35.7</tspan><tspan x="501.3">39.1</tspan><tspan x="532.7">42.3</tspan><tspan x="564.1">41.1</tspan></text>
<text class="n" y="308.1"><tspan x="250.1">1%</tspan><tspan x="281.5">9%</tspan><tspan x="312.9">17%</tspan><tspan x="344.3">24%</tspan><tspan x="375.7">27%</tspan><tspan x="407.1">22%</tspan><tspan x="438.5">19%</tspan><tspan x="469.9">18%</tspan><tspan x="501.3">27%</tspan><tspan x="532.7">28%</tspan><tspan x="564.1">15%</tspan></text>
<text class="n" y="319.9"><tspan x="218.7">15.3</tspan><tspan x="250.1">14.5</tspan><tspan x="281.5">16.2</tspan><tspan x="312.9">18.6</tspan><tspan x="344.3">18.1</tspan><tspan x="375.7">18.9</tspan><tspan x="407.1">22.5</tspan><tspan x="438.5">26.3</tspan><tspan x="469.9">25.0</tspan><tspan x="501.3">24.7</tspan><tspan x="532.7">26.3</tspan><tspan x="564.1">27.7</tspan></text>
<text class="n" y="331.6"><tspan x="218.7">8.1</tspan><tspan x="250.1">8.0</tspan><tspan x="281.5">8.2</tspan><tspan x="312.9">8.5</tspan><tspan x="344.3">8.6</tspan><tspan x="375.7">9.3</tspan><tspan x="407.1">9.7</tspan><tspan x="438.5">10.2</tspan><tspan x="469.9">10.4</tspan><tspan x="501.3">11.0</tspan><tspan x="532.7">10.7</tspan><tspan x="564.1">10.7</tspan></text>
<text class="n" y="343.4"><tspan x="218.7">7.5</tspan><tspan x="250.1">7.7</tspan><tspan x="281.5">8.1</tspan><tspan x="312.9">8.6</tspan><tspan x="344.3">8.4</tspan><tspan x="375.7">8.9</tspan><tspan x="407.1">9.3</tspan><tspan x="438.5">9.7</tspan><tspan x="469.9">9.6</tspan><tspan x="501.3">10.1</tspan><tspan x="532.7">10.2</tspan><tspan x="564.1">10.1</tspan></text>
<text class="n" y="355.1"><tspan x="218.7">48.0</tspan><tspan x="250.1">48.2</tspan><tspan x="281.5">52.5</tspan><tspan x="312.9">56.7</tspan><tspan x="344.3">56.8</tspan><tspan x="375.7">58.9</tspan><tspan x="407.1">63.1</tspan><tspan x="438.5">66.7</tspan><tspan x="469.9">66.4</tspan><tspan x="501.3">69.8</tspan><tspan x="532.7">73.5</tspan><tspan x="564.1">72.9</tspan></text>
<text class="n" y="366.9"><tspan x="218.7">79.0</tspan><tspan x="250.1">78.3</tspan><tspan x="281.5">85.0</tspan><tspan x="312.9">92.5</tspan><tspan x="344.3">91.9</tspan><tspan x="375.7">95.9</tspan><tspan x="407.1">104.5</tspan><tspan x="438.5">112.8</tspan><tspan x="469.9">111.4</tspan><tspan x="501.3">115.6</tspan><tspan x="532.7">120.6</tspan><tspan x="564.1">121.4</tspan></text>
<text class="n" y="378.6"><tspan x="218.7">-6%</tspan><tspan x="250.1">-7%</tspan><tspan x="281.5">1%</tspan><tspan x="312.9">8%</tspan><tspan x="344.3">16%</tspan><tspan x="375.7">22%</tspan><tspan x="407.1">23%</tspan><tspan x="438.5">22%</tspan><tspan x="469.9">21%</tspan><tspan x="501.3">21%</tspan><tspan x="532.7">15%</tspan><tspan x="564.1">8%</tspan></text>

<text class="n" y="405.3"><tspan x="218.7">3.62</tspan><tspan x="250.1">4.78</tspan><tspan x="281.5">4.91</tspan><tspan x="312.9">5.11</tspan><tspan x="344.3">5.91</tspan><tspan x="375.7">6.71</tspan><tspan x="407.1">6.51</tspan><tspan x="438.5">6.47</tspan><tspan x="469.9">7.22</tspan><tspan x="501.3">7.88</tspan><tspan x="532.7">6.69</tspan><tspan x="564.1">6.08</tspan></text>
<text class="n" y="417"><tspan x="218.7">-5.3%</tspan><tspan x="250.1">3.2%</tspan><tspan x="281.5">6.1%</tspan><tspan x="312.9">27.9%</tspan><tspan x="344.3">63.2%</tspan><tspan x="375.7">40.4%</tspan><tspan x="407.1">32.5%</tspan><tspan x="438.5">26.5%</tspan><tspan x="469.9">22.1%</tspan><tspan x="501.3">17.4%</tspan><tspan x="532.7">2.9%</tspan><tspan x="564.1">-6.1%</tspan></text>

<text class="n" y="440.2"><tspan x="218.7">4.0</tspan><tspan x="250.1">4.5</tspan><tspan x="281.5">5.2</tspan><tspan x="312.9">5.8</tspan><tspan x="344.3">4.8</tspan><tspan x="375.7">5.5</tspan><tspan x="407.1">6.2</tspan><tspan x="438.5">7.6</tspan><tspan x="469.9">6.4</tspan><tspan x="501.3">7.9</tspan><tspan x="532.7">6.8</tspan><tspan x="564.1">6.7</tspan></text>
<text class="n" y="451.9"><tspan x="218.7">5.5</tspan><tspan x="250.1">5.5</tspan><tspan x="281.5">6.6</tspan><tspan x="312.9">9.3</tspan><tspan x="344.3">8.0</tspan><tspan x="375.7">10.8</tspan><tspan x="407.1">10.2</tspan><tspan x="438.5">11.7</tspan><tspan x="469.9">14.0</tspan><tspan x="501.3">12.8</tspan><tspan x="532.7">9.7</tspan></text>
<text class="n" y="463.6"><tspan x="218.7">0.8</tspan><tspan x="250.1">1.0</tspan><tspan x="281.5">1.0</tspan><tspan x="312.9">1.2</tspan><tspan x="344.3">1.2</tspan><tspan x="375.7">1.3</tspan><tspan x="407.1">1.7</tspan><tspan x="438.5">1.7</tspan><tspan x="469.9">1.5</tspan><tspan x="501.3">1.7</tspan><tspan x="532.7">1.7</tspan><tspan x="564.1">1.6</tspan></text>
<text class="n" y="475.3"><tspan x="218.7">2.4</tspan><tspan x="250.1">4.2</tspan><tspan x="281.5">4.8</tspan><tspan x="312.9">4.8</tspan><tspan x="344.3">4.7</tspan><tspan x="375.7">4.6</tspan><tspan x="407.1">3.2</tspan><tspan x="438.5">3.2</tspan><tspan x="469.9">3.3</tspan><tspan x="501.3">2.9</tspan><tspan x="532.7">3.1</tspan><tspan x="564.1">4.4</tspan></text>
</g>

<text x="63" y="488.5" style="font-family:'Liberation Serif','Noto Sans CJK SC',serif;font-size:9px;fill:#333">资料来源：Bloomberg，Wind，兴业证券经济与金融研究院整理</text>
</svg>
